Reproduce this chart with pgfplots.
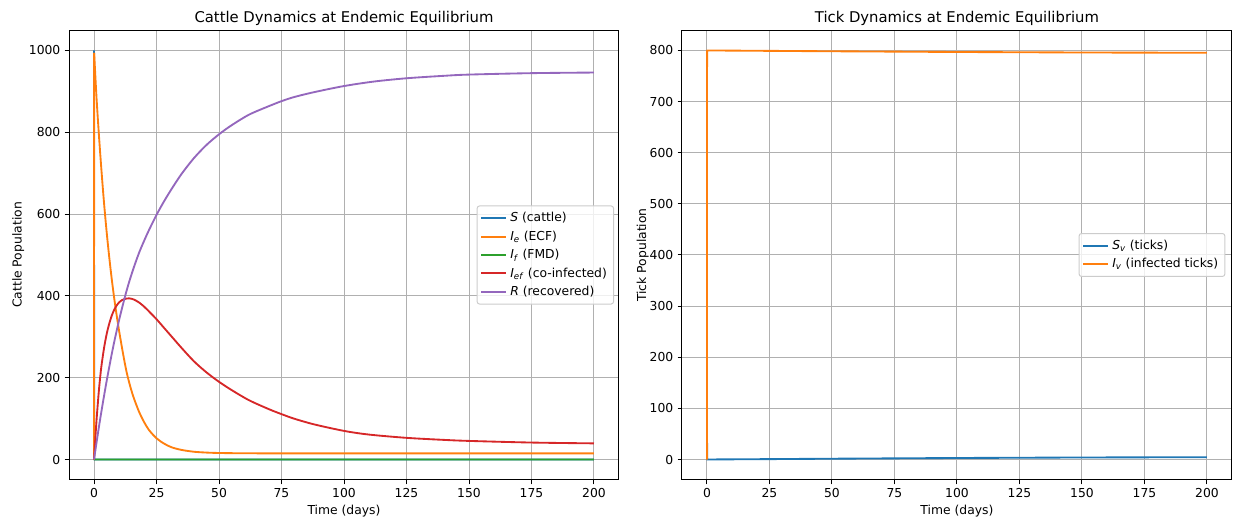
\documentclass[border=0pt]{standalone}
\usepackage{pgfplots}
\pgfplotsset{compat=1.18}
\usepackage{fontspec}
\setmainfont{DejaVu Sans}
\definecolor{C0}{HTML}{1F77B4}
\definecolor{C1}{HTML}{FF7F0E}
\definecolor{C2}{HTML}{2CA02C}
\definecolor{C3}{HTML}{D62728}
\definecolor{C4}{HTML}{9467BD}
\definecolor{gridgray}{HTML}{B0B0B0}
\definecolor{legedge}{HTML}{CCCCCC}
\pgfplotsset{
 mystyle/.style={
  width=445.5pt, height=364.5pt, scale only axis,
  xmin=-10, xmax=210,
  xtick={0,25,...,200},
  grid=major,
  major grid style={color=gridgray, line width=0.8pt},
  axis line style={line width=0.8pt},
  tick align=outside, tick pos=left,
  major tick length=3.5pt,
  every tick/.style={black, line width=0.8pt},
  tick label style={font=\fontsize{10}{12}\selectfont},
  label style={font=\fontsize{10}{12}\selectfont},
  title style={font=\fontsize{12}{14}\selectfont, yshift=-6pt},
  /pgf/number format/assume math mode=true,
  /pgf/number format/1000 sep={},
  scaled ticks=false,
  legend cell align=left,
  legend style={draw=legedge, line width=0.8pt, rounded corners=2pt, fill=white, fill opacity=0.8, text opacity=1,
    font=\fontsize{10}{12}\selectfont, anchor=east, nodes={inner sep=2.9pt}, row sep=0pt, inner sep=2.5pt},
  legend image code/.code={\draw[##1] (0pt,0pt) -- (20pt,0pt);},
  every axis plot/.append style={line width=1.5pt, line join=round, no marks},
  xlabel={Time (days)},
  xlabel shift=-1.5pt,
 }
}
\begin{document}
\begin{tikzpicture}
\useasboundingbox (-55.9pt,-29.2pt) rectangle (945.3pt,388.8pt);
\begin{axis}[mystyle, at={(0pt,0pt)}, anchor=south west,
  ymin=-50, ymax=1050, ytick={0,200,...,1000},
  ylabel={Cattle Population}, ylabel shift=-3pt,
  title={Cattle Dynamics at Endemic Equilibrium},
  legend style={at={(0.991,0.5)}}]
\addlegendimage{C0, line width=1.5pt}
\addlegendentry{\textit{S} (cattle)}
\addlegendimage{C1, line width=1.5pt}
\addlegendentry{\textit{I}\textsubscript{\textit{e}} (ECF)}
\addlegendimage{C2, line width=1.5pt}
\addlegendentry{\textit{I}\textsubscript{\textit{f}} (FMD)}
\addlegendimage{C3, line width=1.5pt}
\addlegendentry{\textit{I}\textsubscript{\textit{ef}} (co-infected)}
\addlegendimage{C4, line width=1.5pt}
\addlegendentry{\textit{R} (recovered)}
\addplot[C0, sharp plot, forget plot] coordinates {(0,1000) (0.05,0) (50,0) (100,0) (150,0) (200,0)};
\addplot[C2, sharp plot, forget plot] coordinates {(0,3) (0.05,0) (50,0) (100,0) (150,0) (200,0)};
\addplot[C1, sharp plot, forget plot] coordinates {(0,0) (0.05,994)};
\addplot[C1, smooth, forget plot] coordinates {(0.05,994) (1,885) (2,790) (3,705) (4,628) (5,560) (6,500) (7,446) (8,398) (9,355) (10,316) (11,280) (12,246) (13,215) (14,190) (15,168) (16,149) (18,117) (20,92) (22,72) (25,52) (28,39) (31,30) (35,23.5) (40,19) (45,17) (50,16) (60,15.3) (80,15) (120,15) (200,15)};
\addplot[C3, smooth, forget plot] coordinates {(0,0) (0.5,50) (1,95) (1.5,135) (2,172) (2.5,203) (3,230) (4,272) (5,305) (6,330) (7,350) (8,365) (9,376) (10,384) (11,389) (12,392) (13,393.5) (14,394) (15,393) (16,391) (18,384) (20,374) (22,362) (25,343) (28,322) (31,301) (35,273) (40,240) (45,213) (50,190) (55,170) (62,145) (70,123) (75,111) (80,100) (88,86) (100,70) (110,61) (125,53) (140,48) (150,45.5) (175,41.5) (200,39.5)};
\addplot[C4, smooth, forget plot] coordinates {(0,0) (1,41) (2,81) (3,119) (4,155) (5,190) (6,223) (7,255) (8,285) (9,313) (10,340) (11,365) (12,389) (13,412) (14,433) (15,452.5) (16,471) (18,505) (20,534) (22,561) (25,598) (28,631) (31,661) (35,698) (40,737) (45,769) (50,795) (55,817) (62,843) (70,864) (75,876) (80,886) (88,898) (100,913) (112,924) (125,932) (140,938) (150,941) (175,944.5) (200,946)};
\end{axis}
\begin{axis}[mystyle, at={(496.5pt,0pt)}, anchor=south west,
  ymin=-40, ymax=840, ytick={0,100,...,800},
  ylabel={Tick Population}, ylabel shift=-6pt,
  title={Tick Dynamics at Endemic Equilibrium},
  legend style={at={(0.988,0.5)}}]
\addplot[C0] coordinates {(0,800) (0.05,0.1) (25,0.8) (50,1.6) (75,2.3) (100,3.0) (125,3.5) (150,4.0) (175,4.3) (200,4.5)};
\addlegendentry{\textit{S}\textsubscript{\textit{v}} (ticks)}
\addplot[C1] coordinates {(0,0) (0.05,800) (25,799.2) (50,798.4) (75,797.7) (100,797) (125,796.5) (150,796) (175,795.7) (200,795.5)};
\addlegendentry{\textit{I}\textsubscript{\textit{v}} (infected ticks)}
\end{axis}
\end{tikzpicture}
\end{document}
